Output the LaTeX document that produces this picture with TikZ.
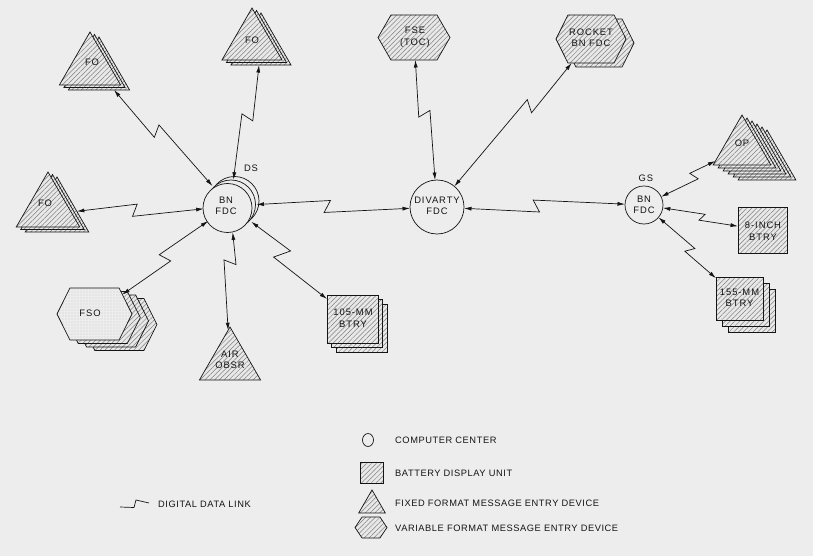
\documentclass[tikz,border=0pt]{standalone}
\usepackage{fontspec}
\setmainfont{Liberation Sans}
\newfontfamily\lblfont[LetterSpace=10]{Liberation Sans}
\newfontfamily\legfont[LetterSpace=6]{Liberation Sans}
\usetikzlibrary{shapes.geometric,shapes.symbols,patterns.meta,arrows.meta,calc}
\definecolor{paper}{gray}{0.93}
\definecolor{ink}{gray}{0.08}
\begin{document}
\begin{tikzpicture}[x=1pt,y=-1pt,
  hatch/.style={draw=ink, line width=0.7pt, preaction={fill=black!9}, pattern={Lines[angle=45,distance=3.4pt,line width=0.5pt]}, pattern color=black!50},
  dotfill/.style={draw=ink, line width=0.7pt, preaction={fill=black!7}, pattern={Dots[distance=3pt,radius=0.4pt]}, pattern color=black!45},
  tri/.style={regular polygon, regular polygon sides=3, inner sep=0pt, outer sep=0pt, minimum size=#1},
  hex/.style n args={3}{signal, signal to=east and west, signal pointer angle=#3, minimum width=#1, minimum height=#2, inner sep=0pt, outer sep=0pt},
  box/.style 2 args={rectangle, minimum width=#1, minimum height=#2, inner sep=0pt, outer sep=0pt},
  cc/.style={circle, draw=ink, line width=0.7pt, fill=paper, minimum size=#1, inner sep=0pt, outer sep=0pt},
  lbl/.style={font=\lblfont\fontsize{9.4}{11.5}\selectfont, text=ink, align=center, inner sep=0pt},
  leg/.style={font=\legfont\fontsize{9.3}{10}\selectfont, text=ink, anchor=west, inner sep=0pt},
  link/.style={{Latex[length=7.5pt,width=4pt]}-{Latex[length=7.5pt,width=4pt]}, draw=ink, line width=0.7pt},
  boltL/.style n args={3}{to path={
      -- ($(\tikztostart)!#1!(\tikztotarget)!#3!90:(\tikztotarget)$)
      -- ($(\tikztostart)!#2!(\tikztotarget)!#3!-90:(\tikztotarget)$)
      -- (\tikztotarget) \tikztonodes}},
  boltR/.style n args={3}{to path={
      -- ($(\tikztostart)!#1!(\tikztotarget)!#3!-90:(\tikztotarget)$)
      -- ($(\tikztostart)!#2!(\tikztotarget)!#3!90:(\tikztotarget)$)
      -- (\tikztotarget) \tikztonodes}}
]
\useasboundingbox (0,0) rectangle (813,556);
\fill[paper] (0,0) rectangle (813,556);

% ---------- computer centres ----------
\foreach \k in {2,1}
  \node[cc=49] (bnb\k) at ($(227.5,208)+(3.5*\k,-3.5*\k)$) {};
\node[cc=49] (bn) at (227.5,208) {};
\node[circle, minimum size=53, inner sep=0pt, outer sep=0pt] (bnx) at (230,206) {};
\node[lbl] (bnt) at (226,206) {BN\\FDC};
\node[lbl] (dst) at (251,168) {DS};

\node[cc=54] (div) at (437,207) {};
\node[lbl] (divt) at (437,206) {DIVARTY\\FDC};

\node[cc=38] (gs) at (644,205) {};
\node[lbl] (gst) at (644,205) {BN\\FDC};
\node[lbl] (gsl) at (646,178) {GS};

% ---------- FO triangles (left group) ----------
\foreach \k in {2,1}
  \node[tri=70.6, hatch] (fotl\k) at ($(90,67.3)+(4.5*\k,2.5*\k)$) {};
\node[tri=70.6, hatch] (fotl) at (90,67.3) {};
\node[lbl] (fotlt) at (92,62) {FO};

\foreach \k in {2,1}
  \node[tri=69.4, hatch] (fot\k) at ($(252,42.7)+(4.5*\k,2.5*\k)$) {};
\node[tri=69.4, hatch] (fot) at (252,42.7) {};
\node[lbl] (fott) at (252,40) {FO};

\foreach \k in {2,1}
  \node[tri=73.4, hatch] (fol\k) at ($(48,208.7)+(4.5*\k,2.5*\k)$) {};
\node[tri=73.4, hatch] (fol) at (48,208.7) {};
\node[lbl] (folt) at (45,203) {FO};

\node[tri=70.6, hatch] (air) at (230,362.3) {};
\node[lbl] (airt) at (230,360) {AIR\\OBSR};

% ---------- hexagons ----------
\foreach \k in {3,2,1}
  \node[hex={75}{52}{127}, hatch] (fso\k) at ($(94.5,314)+(8.3*\k,3.5*\k)$) {};
\node[hex={75}{52}{127}, dotfill] (fso) at (94.5,314) {};
\node[lbl] (fsot) at (90,313) {FSO};

\node[hex={72}{45}{120}, hatch] (fse) at (414,37.5) {};
\node[lbl] (fset) at (415,37) {FSE\\(TOC)};

\node[hex={70}{48}{127}, hatch] (rocket1) at ($(591,39)+(8,4)$) {};
\node[hex={70}{48}{127}, hatch] (rocket) at (591,39) {};
\node[lbl] (rockett) at (591,38) {ROCKET\\BN FDC};

% ---------- battery display units ----------
\foreach \k in {2,1}
  \node[box={51}{48}, hatch] (b105\k) at ($(352.5,319)+(4.5*\k,4.5*\k)$) {};
\node[box={51}{48}, hatch] (b105) at (352.5,319) {};
\node[lbl] (b105t) at (353,318) {105-MM\\BTRY};

\node[box={49}{46}, hatch] (b8) at (762.5,230) {};
\node[lbl] (b8t) at (763,231) {8-INCH\\BTRY};

\foreach \k in {2,1}
  \node[box={47}{43}, hatch] (b155\k) at ($(739.5,298.5)+(6*\k,6*\k)$) {};
\node[box={47}{43}, hatch] (b155) at (739.5,298.5) {};
\node[lbl] (b155t) at (739.5,298) {155-MM\\BTRY};

% ---------- OP triangles ----------
\foreach \k in {5,4,3,2,1}
  \node[tri=66.6, hatch] (op\k) at ($(742,148.3)+(5*\k,3*\k)$) {};
\node[tri=66.6, hatch] (op) at (742,148.3) {};
\node[lbl] (opt) at (742,143) {OP};

% ---------- digital data links ----------
\draw[link] (fotl2) to[boltR={0.455}{0.425}{6pt}] (bnx);
\draw[link] (fot2) to[boltL={0.455}{0.425}{6pt}] (bnx);
\draw[link] (fol2) to[boltL={0.465}{0.435}{6pt}] (bnx);
\draw[link] (fso) to[boltR={0.535}{0.505}{6pt}] (bnx);
\draw[link] (air) to[boltL={0.655}{0.625}{6pt}] (bnx);
\draw[link] (b105) to[boltL={0.6}{0.55}{8pt}] (bnx);
\draw[link] (bnx) to[boltL={0.485}{0.455}{6pt}] (div);
\draw[link] (fse) to[boltR={0.465}{0.435}{6pt}] (div);
\draw[link] (rocket) to[boltL={0.415}{0.385}{6pt}] (div);
\draw[link] (div) to[boltR={0.495}{0.465}{6pt}] (gs);
\draw[link] (op) to[boltR={0.51}{0.47}{4.5pt}] (gs);
\draw[link] (b8) to[boltL={0.53}{0.49}{3.5pt}] (gs);
\draw[link] (b155) to[boltL={0.54}{0.5}{4.5pt}] (gs);

% ---------- legend ----------
\node[ellipse, draw=ink, line width=0.7pt, minimum width=11, minimum height=13, inner sep=0pt] (lgc) at (368,440) {};
\node[leg] (lgct) at (395,440) {COMPUTER CENTER};
\node[box={23}{21}, hatch] (lgb) at (371.5,472.5) {};
\node[leg] (lgbt) at (395,473) {BATTERY DISPLAY UNIT};
\node[tri=30.7, hatch] (lgt) at (372,505.3) {};
\node[leg] (lgtt) at (395,503) {FIXED FORMAT MESSAGE ENTRY DEVICE};
\node[hex={32}{21}{112}, hatch] (lgh) at (371,527.5) {};
\node[leg] (lght) at (395,528) {VARIABLE FORMAT MESSAGE ENTRY DEVICE};
\coordinate (dla) at (120,507);
\coordinate (dlb) at (149,503);
\draw[ink, line width=0.7pt] (dla) -- (134,507.5) -- (136,500) -- (dlb);
\node[leg] (dlt) at (158,504) {DIGITAL DATA LINK};
\end{tikzpicture}
\end{document}
